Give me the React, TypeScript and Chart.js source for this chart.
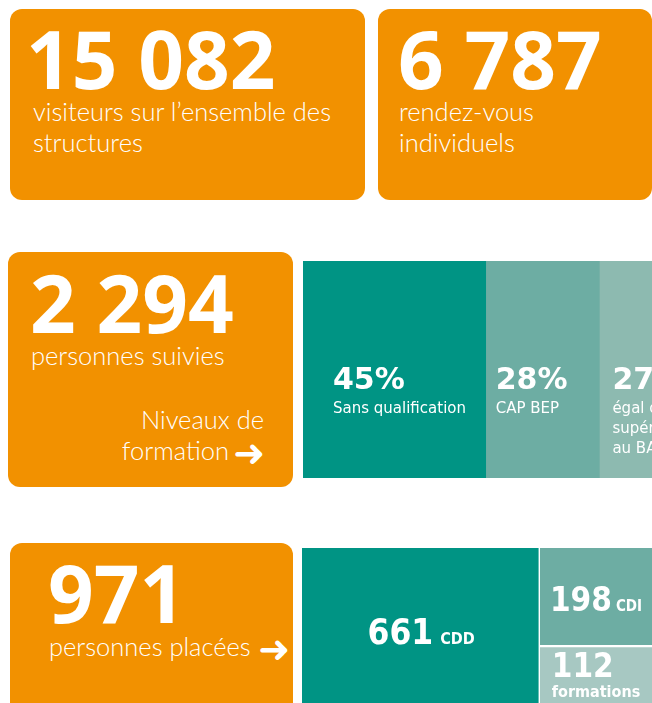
import { useEffect, useRef } from "react";
import { Chart, registerables } from "chart.js";

Chart.register(...registerables);

// ---- Data ----
const kpiValues = ["15 082", "6 787", "2 294", "971"];
const kpiCaptions = [
  ["visiteurs sur l’ensemble des", "structures"],
  ["rendez-vous", "individuels"],
  ["personnes suivies"],
  ["personnes placées"],
];
const niveauCaption = ["Niveaux de", "formation"];
const niveauLabels = ["Sans qualification", "CAP BEP", "égal ou supérieur au BAC"];
const niveauLines = [["Sans qualification"], ["CAP BEP"], ["égal ou", "supérieur", "au BAC"]];
const niveauValues = [45, 28, 27];
const placementLabels = ["CDD", "CDI", "formations"];
const placementValues = [661, 198, 112];

// ---- Styles ----
const ORANGE = "#F29100";
const TEAL = ["#009484", "#6DADA3", "#8DBAB0"];
const PLACE_COLORS = ["#009484", "#6DADA3", "#A7C8C2"];
const COND = '"DejaVu Sans Condensed", "DejaVu Sans", sans-serif';
const WIDE = '"DejaVu Sans", sans-serif';
const NIVEAU_INSET = [30, 10, 13];

const niveauLabelPlugin = {
  id: "niveauLabelPlugin",
  afterDatasetsDraw(chart: any) {
    const ctx = chart.ctx;
    const top = chart.chartArea.top;
    chart.data.datasets.forEach((ds: any, i: number) => {
      const bar = chart.getDatasetMeta(i).data[0];
      const left = Math.min(bar.x, bar.base);
      const x = left + NIVEAU_INSET[i];
      ctx.save();
      ctx.fillStyle = "#ffffff";
      ctx.textAlign = "left";
      ctx.textBaseline = "alphabetic";
      ctx.font = `bold 30px ${WIDE}`;
      ctx.fillText(`${ds.data[0]}%`, x, top + 128);
      ctx.font = `15px ${WIDE}`;
      niveauLines[i].forEach((line, j) => ctx.fillText(line, x, top + 152 + j * 20));
      ctx.restore();
    });
  },
};

function drawInline(ctx: any, big: string, small: string, cx: number, baseline: number, bigFont: string, smallFont: string, gap: number) {
  ctx.font = bigFont;
  const wb = ctx.measureText(big).width;
  ctx.font = smallFont;
  const ws = ctx.measureText(small).width;
  const start = cx - (wb + gap + ws) / 2;
  ctx.font = bigFont;
  ctx.fillText(big, start, baseline);
  ctx.font = smallFont;
  ctx.fillText(small, start + wb + gap, baseline);
}

const cddLabelPlugin = {
  id: "cddLabelPlugin",
  afterDatasetsDraw(chart: any) {
    const ctx = chart.ctx;
    const bar = chart.getDatasetMeta(0).data[0];
    const left = Math.min(bar.x, bar.base);
    const right = Math.max(bar.x, bar.base);
    const top = chart.chartArea.top;
    ctx.save();
    ctx.fillStyle = "#ffffff";
    ctx.textBaseline = "alphabetic";
    ctx.textAlign = "left";
    drawInline(ctx, String(chart.data.datasets[0].data[0]), chart.data.datasets[0].label, (left + right) / 2, top + 96, `bold 35px ${COND}`, `bold 16px ${COND}`, 7);
    ctx.restore();
  },
};

const rightLabelPlugin = {
  id: "rightLabelPlugin",
  afterDatasetsDraw(chart: any) {
    const ctx = chart.ctx;
    ctx.save();
    ctx.fillStyle = "#ffffff";
    ctx.textBaseline = "alphabetic";
    ctx.textAlign = "left";
    chart.data.datasets.forEach((ds: any, i: number) => {
      const bar = chart.getDatasetMeta(i).data[0];
      const top = Math.min(bar.y, bar.base);
      const cx = bar.x;
      if (ds.label === "CDI") {
        drawInline(ctx, String(ds.data[0]), ds.label, cx, top + 63, `bold 33px ${COND}`, `bold 15px ${COND}`, 4);
      } else {
        ctx.font = `bold 33px ${COND}`;
        const w1 = ctx.measureText(String(ds.data[0])).width;
        ctx.font = `bold 16px ${COND}`;
        const w2 = ctx.measureText(ds.label).width;
        const start = cx - Math.max(w1, w2) / 2;
        ctx.font = `bold 33px ${COND}`;
        ctx.fillText(String(ds.data[0]), start, top + 29);
        ctx.font = `bold 16px ${COND}`;
        ctx.fillText(ds.label, start, top + 49);
      }
    });
    ctx.restore();
  },
};

const hiddenScale = { display: false, grid: { display: false } };

export default function App() {
  const niveauRef = useRef<HTMLCanvasElement>(null);
  const cddRef = useRef<HTMLCanvasElement>(null);
  const rightRef = useRef<HTMLCanvasElement>(null);
  const rightWrapRef = useRef<HTMLDivElement>(null);

  useEffect(() => {
    const c1 = new Chart(niveauRef.current!, {
      type: "bar",
      data: {
        labels: ["Niveaux de formation"],
        datasets: niveauValues.map((v, i) => ({
          label: niveauLabels[i],
          data: [v],
          backgroundColor: TEAL[i],
          borderWidth: 0,
          barPercentage: 1,
          categoryPercentage: 1,
        })),
      },
      options: {
        indexAxis: "y",
        responsive: false,
        animation: false,
        layout: { padding: 0 },
        plugins: { legend: { display: false }, tooltip: { enabled: false } },
        scales: {
          x: { ...hiddenScale, stacked: true, min: 0, max: 100 },
          y: { ...hiddenScale, stacked: true },
        },
      },
      plugins: [niveauLabelPlugin],
    });

    const total = placementValues.reduce((a, b) => a + b, 0);
    const c2 = new Chart(cddRef.current!, {
      type: "bar",
      data: {
        labels: ["Personnes placées"],
        datasets: [
          {
            label: placementLabels[0],
            data: [placementValues[0]],
            backgroundColor: PLACE_COLORS[0],
            borderColor: "#ffffff",
            borderWidth: { top: 0, bottom: 0, left: 0, right: 2 },
            borderSkipped: false,
            barPercentage: 1,
            categoryPercentage: 1,
          },
        ],
      },
      options: {
        indexAxis: "y",
        responsive: false,
        animation: false,
        layout: { padding: 0 },
        plugins: { legend: { display: false }, tooltip: { enabled: false } },
        scales: {
          x: { ...hiddenScale, stacked: true, min: 0, max: total },
          y: { ...hiddenScale, stacked: true },
        },
      },
      plugins: [cddLabelPlugin],
    });

    const split = c2.scales.x.getPixelForValue(placementValues[0]);
    const fullW = cddRef.current!.width;
    const wrap = rightWrapRef.current!;
    wrap.style.left = `${302 + split}px`;
    const rw = Math.round(fullW - split);
    rightRef.current!.width = rw;
    rightRef.current!.style.width = `${rw}px`;

    const c3 = new Chart(rightRef.current!, {
      type: "bar",
      data: {
        labels: ["Autres"],
        datasets: [
          {
            label: placementLabels[2],
            data: [placementValues[2]],
            backgroundColor: PLACE_COLORS[2],
            borderWidth: 0,
            barPercentage: 1,
            categoryPercentage: 1,
          },
          {
            label: placementLabels[1],
            data: [placementValues[1]],
            backgroundColor: PLACE_COLORS[1],
            borderColor: "#ffffff",
            borderWidth: { top: 0, bottom: 3, left: 0, right: 0 },
            borderSkipped: false,
            barPercentage: 1,
            categoryPercentage: 1,
          },
        ],
      },
      options: {
        responsive: false,
        animation: false,
        layout: { padding: 0 },
        plugins: { legend: { display: false }, tooltip: { enabled: false } },
        scales: {
          x: { ...hiddenScale, stacked: true },
          y: { ...hiddenScale, stacked: true, min: 0, max: placementValues[1] + placementValues[2] },
        },
      },
      plugins: [rightLabelPlugin],
    });

    return () => {
      c1.destroy();
      c2.destroy();
      c3.destroy();
    };
  }, []);

  const light = { fontFamily: '"Lato Light", "Lato", "Open Sans", sans-serif', fontWeight: 300, fontSize: 25.5, fill: "#ffffff" } as any;
  const bold = { fontFamily: '"Open Sans", sans-serif', fontWeight: 700, fontSize: 80, fill: "#ffffff" } as any;
  const arrow = { fontFamily: '"DejaVu Sans", sans-serif', fontWeight: 700, fontSize: 38, fill: "#ffffff" } as any;

  return (
    <div style={{ position: "fixed", left: 0, top: 0, width: 652, height: 703, overflow: "hidden", background: "#ffffff" }}>
      <svg width={652} height={703} style={{ position: "absolute", left: 0, top: 0 }}>
        <rect x={10} y={9} width={355} height={191} rx={12} fill={ORANGE} />
        <rect x={378} y={9} width={274} height={191} rx={12} fill={ORANGE} />
        <rect x={8} y={252} width={285} height={235} rx={12} fill={ORANGE} />
        <rect x={10} y={543} width={283} height={200} rx={12} fill={ORANGE} />

        <text x={26} y={89} {...bold}>{kpiValues[0]}</text>
        <text x={33} y={121} {...light}>{kpiCaptions[0][0]}</text>
        <text x={33} y={152} {...light}>{kpiCaptions[0][1]}</text>

        <text x={398} y={89} {...bold}>{kpiValues[1]}</text>
        <text x={399} y={121} {...light}>{kpiCaptions[1][0]}</text>
        <text x={399} y={152} {...light}>{kpiCaptions[1][1]}</text>

        <text x={30} y={333} {...bold}>{kpiValues[2]}</text>
        <text x={31} y={365} {...light}>{kpiCaptions[2][0]}</text>
        <text x={264} y={429} textAnchor="end" {...light}>{niveauCaption[0]}</text>
        <text x={229} y={460} textAnchor="end" {...light}>{niveauCaption[1]}</text>
        <text x={265} y={466} textAnchor="end" {...arrow}>➜</text>

        <text x={48} y={623} {...bold}>{kpiValues[3]}</text>
        <text x={49} y={656} {...light}>{kpiCaptions[3][0]}</text>
        <text x={290} y={662} textAnchor="end" {...arrow}>➜</text>
      </svg>
      <canvas ref={niveauRef} width={406} height={217} style={{ position: "absolute", left: 303, top: 261, width: 406, height: 217 }} />
      <canvas ref={cddRef} width={350} height={156} style={{ position: "absolute", left: 302, top: 548, width: 350, height: 156 }} />
      <div ref={rightWrapRef} style={{ position: "absolute", left: 540, top: 548, height: 156 }}>
        <canvas ref={rightRef} width={112} height={156} style={{ display: "block", width: 112, height: 156 }} />
      </div>
    </div>
  );
}
